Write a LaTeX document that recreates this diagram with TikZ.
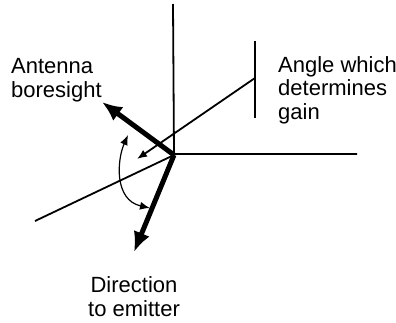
\documentclass[tikz,border=0pt]{standalone}
\usepackage{fontspec}
\setmainfont{Liberation Sans}
\usetikzlibrary{arrows.meta}
\begin{document}
\begin{tikzpicture}[x=1pt,y=-1pt,>={Latex[length=10pt,width=8pt]},
    thinline/.style={line width=1.8pt},
    bigarrow/.style={line width=5pt,-{Latex[length=20pt,width=17pt]}},
    lbl/.style={font=\fontsize{22}{23.5}\selectfont,inner sep=0pt}]
\useasboundingbox (0,0) rectangle (396,322);
\coordinate (O) at (174,155);
\coordinate (top) at (173,4);
\coordinate (right) at (357,154);
\coordinate (low) at (35,221);
\coordinate (bore) at (102,102);
\coordinate (emit) at (134,252);
\coordinate (ticktop) at (255,41);
\coordinate (tickbot) at (255,118);
\coordinate (gainfoot) at (255,78);
\coordinate (gaintip) at (137,159);
\coordinate (arcA) at (128,135);
\coordinate (arcB) at (150,208);

\draw[thinline] (top) -- (O |- right) -- (right);
\draw[thinline] (low) -- (O);
\draw[line width=2.6pt] (ticktop) -- (tickbot);
\draw[thinline,->] (gainfoot) -- (gaintip);
\draw[line width=1.2pt,<->] (arcA) .. controls (117,160) and (114,200) .. (arcB);
\draw[bigarrow] (O) -- (bore);
\draw[bigarrow] (O) -- (emit);

% base anchor sits on the last line
\node (antenna) at (11,97) [lbl,anchor=base west,align=left]{Antenna\\boresight};
\node (angle) at (278,119) [lbl,anchor=base west,align=left]{Angle which\\determines\\gain};
\node (direction) at (134,316) [lbl,anchor=base,align=center]{Direction\\to emitter};
\end{tikzpicture}
\end{document}
